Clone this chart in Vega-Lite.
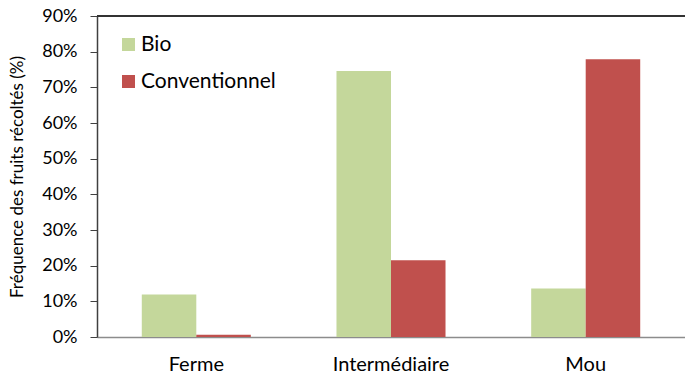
{
  "$schema": "https://vega.github.io/schema/vega-lite/v6.json",
  "autosize": "none",
  "width": 588,
  "height": 321,
  "padding": {"left": 97, "top": 16, "right": 0, "bottom": 41},
  "background": "white",
  "config": {
    "font": "Lato",
    "view": {"stroke": null}
  },
  "data": {
    "values": [
      {"texture": "Ferme", "mode": "Bio", "freq": 0.119},
      {"texture": "Ferme", "mode": "Conventionnel", "freq": 0.006},
      {"texture": "Intermédiaire", "mode": "Bio", "freq": 0.746},
      {"texture": "Intermédiaire", "mode": "Conventionnel", "freq": 0.215},
      {"texture": "Mou", "mode": "Bio", "freq": 0.136},
      {"texture": "Mou", "mode": "Conventionnel", "freq": 0.779}
    ]
  },
  "layer": [
    {
      "mark": {"type": "bar"},
      "encoding": {
        "x": {
          "field": "texture",
          "type": "nominal",
          "sort": ["Ferme", "Intermédiaire", "Mou"],
          "scale": {"paddingInner": 0.44, "paddingOuter": 0.23},
          "axis": {
            "title": null,
            "labelAngle": 0,
            "labelFontSize": 20,
            "labelColor": "#000000",
            "labelPadding": 17,
            "ticks": false,
            "domainColor": "#8c8c8c",
            "domainWidth": 1.5
          }
        },
        "xOffset": {
          "field": "mode",
          "type": "nominal",
          "scale": {"paddingInner": 0, "paddingOuter": 0}
        },
        "y": {
          "field": "freq",
          "type": "quantitative",
          "scale": {"domain": [0, 0.9], "nice": false},
          "axis": {
            "title": "Fréquence des fruits récoltés (%)",
            "titleFontSize": 17,
            "titleFontWeight": "normal",
            "titleColor": "#000000",
            "titlePadding": 15,
            "format": ".0%",
            "values": [0, 0.1, 0.2, 0.3, 0.4, 0.5, 0.6, 0.7, 0.8, 0.9],
            "labelOverlap": false,
            "labelFlush": false,
            "labelFontSize": 18,
            "labelColor": "#000000",
            "labelPadding": 13,
            "tickSize": 7,
            "tickColor": "#404040",
            "domainColor": "#404040",
            "domainWidth": 1.5,
            "grid": false
          }
        },
        "color": {
          "field": "mode",
          "type": "nominal",
          "scale": {"domain": ["Bio", "Conventionnel"], "range": ["#C4D79B", "#C0504D"]},
          "legend": {
            "title": null,
            "orient": "none",
            "legendX": 21,
            "legendY": 18,
            "symbolType": "square",
            "symbolSize": 169,
            "symbolStrokeWidth": 0,
            "labelFontSize": 21,
            "labelColor": "#000000",
            "labelOffset": 2,
            "rowPadding": 15
          }
        }
      }
    },
    {
      "mark": {"type": "rule", "color": "#333333", "strokeWidth": 2},
      "encoding": {
        "y": {
          "datum": 0.9,
          "type": "quantitative",
          "axis": {
            "title": "Fréquence des fruits récoltés (%)",
            "titleFontSize": 17,
            "titleFontWeight": "normal",
            "titleColor": "#000000",
            "titlePadding": 15,
            "format": ".0%",
            "values": [0, 0.1, 0.2, 0.3, 0.4, 0.5, 0.6, 0.7, 0.8, 0.9],
            "labelOverlap": false,
            "labelFlush": false,
            "labelFontSize": 18,
            "labelColor": "#000000",
            "labelPadding": 13,
            "tickSize": 7,
            "tickColor": "#404040",
            "domainColor": "#404040",
            "domainWidth": 1.5,
            "grid": false
          }
        }
      }
    }
  ]
}
